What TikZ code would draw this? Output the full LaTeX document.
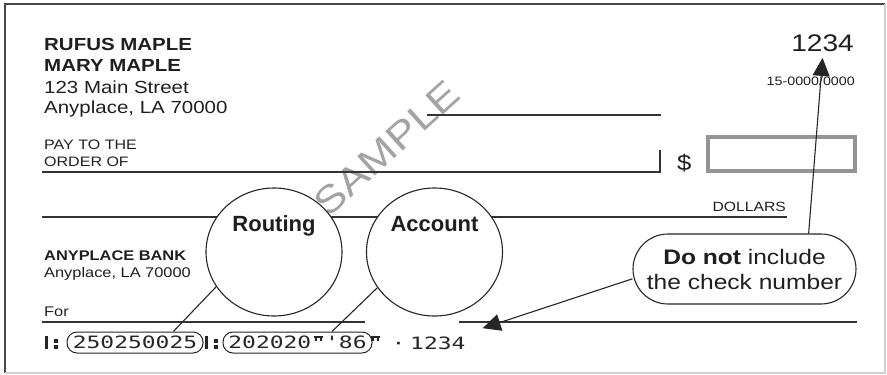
\documentclass[tikz,border=0pt]{standalone}
\usepackage{fontspec}
\setmainfont{Liberation Sans}[FakeStretch=1.17]
\newfontfamily\plainsans{Liberation Sans}
\newfontfamily\micrfont{DejaVu Sans Mono}[FakeStretch=1.35]
\usetikzlibrary{arrows.meta,calc,shapes.geometric}
\begin{document}
\begin{tikzpicture}[x=1pt,y=-1pt,
  txt/.style={inner sep=0pt, anchor=base west, text=black!88},
  rule/.style={line width=1.2pt, draw=black!80},
  lens/.style={ellipse, draw=black!85, line width=1.1pt, fill=white, minimum width=136pt, minimum height=128pt, inner sep=0pt},
  micr/.style={inner sep=0pt, anchor=base west, text=black!85, font=\micrfont\fontsize{17}{17}\selectfont},
  oval/.style={draw=black!85, line width=1pt, rounded corners=10pt, inner sep=0pt, minimum height=21pt, text=black!85, font=\micrfont\fontsize{17}{17}\selectfont},
  callout/.style={draw=black!85, line width=1.1pt, rounded corners=35pt, minimum width=223pt, minimum height=70pt, align=center, inner sep=0pt, fill=white, text=black!88},
  pointer/.style={line width=1.1pt, draw=black!85, -{Triangle[length=18pt,width=17pt]}},
  transitsym/.pic={
    \fill[black!85] (0,0) rectangle (2.6,-13);
    \fill[black!85] (9,-10) rectangle (12.5,-6.5);
    \fill[black!85] (9,-4) rectangle (12.5,-0.5);
  },
  onussym/.pic={
    \fill[black!85] (0,-13.5) rectangle (9,-11.1);
    \fill[black!85] (1.2,-11.1) rectangle (3.2,-7.8);
    \fill[black!85] (5.8,-11.1) rectangle (7.8,-7.8);
  }
]
\useasboundingbox (0,0) rectangle (887,375);
% frame
\draw[line width=1.6pt, black!72] (5,373) -- (5,4) -- (885,4);
\draw[line width=1.6pt, black!18] (885,4) -- (885,373) -- (5,373);

% watermark
\node[rotate=42, text=black!36, inner sep=0pt, font=\fontsize{38}{38}\selectfont] (wm) at (387,148) {SAMPLE};

% header texts
\node[txt, font=\bfseries\fontsize{17.5}{17.5}\selectfont] (own1) at (44,50) {RUFUS MAPLE};
\node[txt, font=\bfseries\fontsize{17.5}{17.5}\selectfont] (own2) at (44,71) {MARY MAPLE};
\node[txt, font=\fontsize{17.5}{17.5}\selectfont] (addr1) at (44,93) {123 Main Street};
\node[txt, font=\fontsize{17.5}{17.5}\selectfont] (addr2) at (44,113) {Anyplace, LA 70000};
\node[txt, font=\fontsize{13.7}{13.7}\selectfont] (pay1) at (44,149) {PAY TO THE};
\node[txt, font=\fontsize{13.7}{13.7}\selectfont] (pay2) at (44,166) {ORDER OF};

\node[txt, anchor=base east, font=\fontsize{24}{24}\selectfont, outer ysep=6pt] (num) at (854,51.7) {1234};
\node[txt, anchor=base east, font=\fontsize{12.2}{12.2}\selectfont] (frac) at (855,85) {15-0000/0000};

% lines
\draw[rule] (427,115) -- (661,115);
\draw[rule] (42,172) -- (660,172) -- (660,150);
\node[txt, font=\fontsize{22}{22}\selectfont] (dol) at (677,170) {\$};
\node[draw=black!42, line width=4pt, minimum width=147pt, minimum height=34pt, inner sep=0pt] (amt) at (781.5,154) {};
\draw[rule] (42,217) -- (787,217);
\node[txt, anchor=base east, font=\fontsize{13.4}{13.4}\selectfont] (dollars) at (786,211.7) {DOLLARS};

\node[txt, font=\bfseries\fontsize{14}{14}\selectfont] (bank1) at (44,260) {ANYPLACE BANK};
\node[txt, font=\fontsize{14}{14}\selectfont] (bank2) at (44,277) {Anyplace, LA 70000};
\node[txt, font=\fontsize{14}{14}\selectfont] (memo) at (44,316.7) {For};
\draw[rule] (42,322) -- (365,322);
\draw[rule] (459,322) -- (857,322);

% MICR line
\pic at (45,349) {transitsym};
\node[oval, minimum width=136pt] (o1) at (135,342.5) {250250025};
\pic at (205,349) {transitsym};
\node[oval, minimum width=149pt] (o2) at (297.5,342.5) {202020\phantom{0}'86};
\pic at (314,349) {onussym};
\pic at (371,349) {onussym};
\node[micr] (dot) at (391.5,349) {·};
\node[micr] (chk) at (410,349) {1234};
\coordinate (tip2) at ($(chk.north east)+(17,-8)$);

% magnifier circles
\node[lens] (rc) at (274,252) {};
\node[lens] (ac) at (434.5,252) {};
\node[inner sep=0pt, anchor=base, text=black!88, font=\plainsans\bfseries\fontsize{22}{22}\selectfont] (rt) at (274,231.7) {Routing};
\node[inner sep=0pt, anchor=base, text=black!88, font=\plainsans\bfseries\fontsize{22}{22}\selectfont] (at) at (434.5,231.7) {Account};
\draw[line width=1.1pt, black!85] (rc.211) -- ($(o1.north)!0.56!(o1.north east)$);
\draw[line width=1.1pt, black!85] (ac.212) -- ($(o2.north)!0.46!(o2.north east)$);

% callout
\node[callout, font=\fontsize{21}{25}\selectfont] (cb) at (744.5,269) {\textbf{Do not} include\\the check number};
\draw[pointer] (cb.29) -- (num.south);
\draw[pointer] (cb.185) -- (tip2);
\end{tikzpicture}
\end{document}
